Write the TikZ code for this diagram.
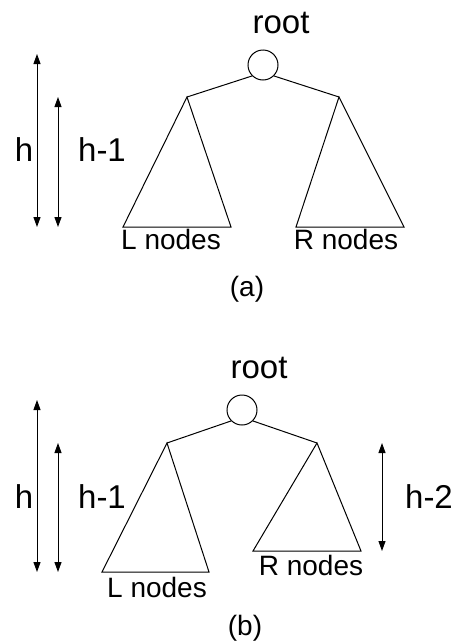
\documentclass[tikz,border=0pt]{standalone}
\usepackage{fontspec}
\setmainfont{Liberation Sans}
\usetikzlibrary{arrows.meta}
\tikzset{
  rootNode/.style={circle,draw,minimum size=30pt,inner sep=0pt,line width=1pt},
  bigLbl/.style={inner sep=0pt,font=\fontsize{33}{40}\selectfont},
  smallLbl/.style={inner sep=0pt,font=\fontsize{28}{34}\selectfont},
  treeLine/.style={line width=1pt},
  hArrow/.style={{Triangle[length=10pt,width=7pt]}-{Triangle[length=10pt,width=7pt]},line width=1pt}
}
\begin{document}
\begin{tikzpicture}[x=1pt,y=-1pt]
  \useasboundingbox (0,0) rectangle (459,643);
  % (a)
  \node[rootNode] (ra) at (263,65) {};
  \node[bigLbl] (rootA) at (281,23) {root};
  \coordinate (lA) at (187,97);
  \coordinate (lA1) at (123,227);
  \coordinate (lA2) at (231,227);
  \coordinate (rA) at (339,97);
  \coordinate (rA1) at (296,227);
  \coordinate (rA2) at (404,227);
  \draw[treeLine] (ra.-135) -- (lA);
  \draw[treeLine] (ra.-45) -- (rA);
  \draw[treeLine] (lA) -- (lA1) -- (lA2) -- cycle;
  \draw[treeLine] (rA) -- (rA1) -- (rA2) -- cycle;
  \node[smallLbl] (lnA) at (171,239) {L nodes};
  \node[smallLbl] (rnA) at (346,239) {R nodes};
  \coordinate (hA1) at (37,54);
  \coordinate (hA2) at (37,227);
  \coordinate (gA1) at (58,97);
  \coordinate (gA2) at (58,227);
  \draw[hArrow] (hA1) -- (hA2);
  \draw[hArrow] (gA1) -- (gA2);
  \node[bigLbl] (hA) at (24,150) {h};
  \node[bigLbl] (gA) at (102,150) {h-1};
  \node[smallLbl] (capA) at (247,289) {(a)};
  % (b)
  \node[rootNode] (rb) at (242,410) {};
  \node[bigLbl] (rootB) at (259,368) {root};
  \coordinate (lB) at (167,443);
  \coordinate (lB1) at (102,572);
  \coordinate (lB2) at (209,572);
  \coordinate (rB) at (317,443);
  \coordinate (rB1) at (253,551);
  \coordinate (rB2) at (361,551);
  \draw[treeLine] (rb.-135) -- (lB);
  \draw[treeLine] (rb.-45) -- (rB);
  \draw[treeLine] (lB) -- (lB1) -- (lB2) -- cycle;
  \draw[treeLine] (rB) -- (rB1) -- (rB2) -- cycle;
  \node[smallLbl] (lnB) at (157,587) {L nodes};
  \node[smallLbl] (rnB) at (311,565) {R nodes};
  \coordinate (hB1) at (37,400);
  \coordinate (hB2) at (37,572);
  \coordinate (gB1) at (58,443);
  \coordinate (gB2) at (58,572);
  \coordinate (kB1) at (382,443);
  \coordinate (kB2) at (382,551);
  \draw[hArrow] (hB1) -- (hB2);
  \draw[hArrow] (gB1) -- (gB2);
  \draw[hArrow] (kB1) -- (kB2);
  \node[bigLbl] (hB) at (24,497) {h};
  \node[bigLbl] (gB) at (102,497) {h-1};
  \node[bigLbl] (kB) at (429,497) {h-2};
  \node[smallLbl] (capB) at (245,628) {(b)};
\end{tikzpicture}
\end{document}
